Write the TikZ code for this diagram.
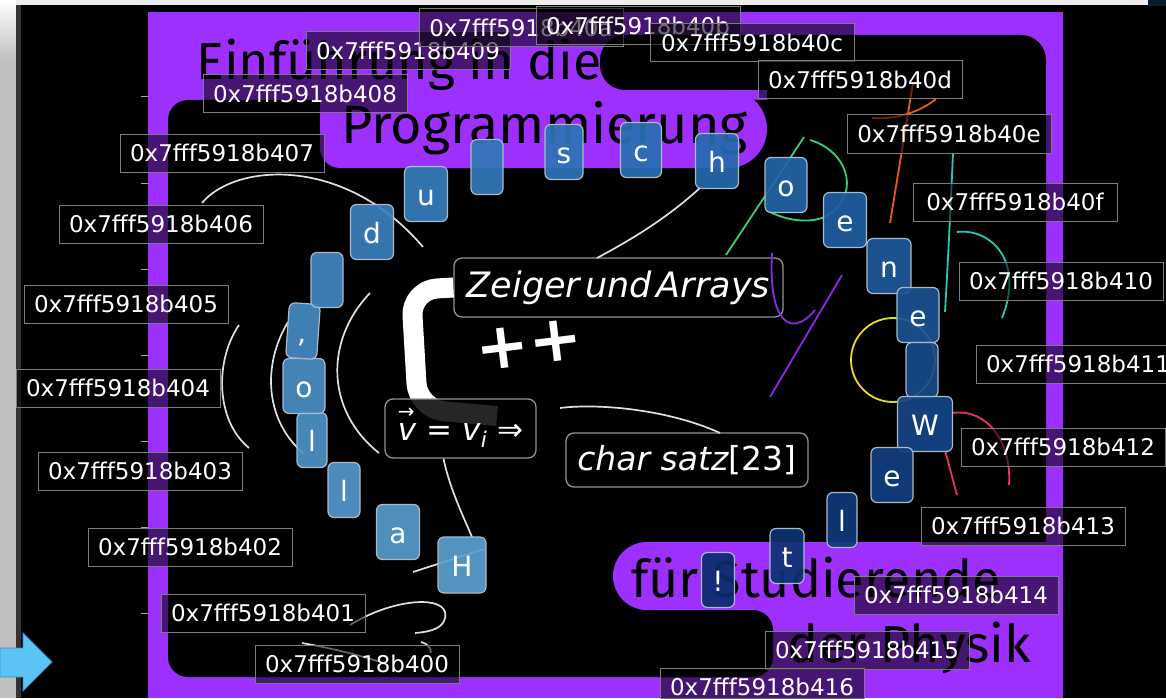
\documentclass[tikz,border=0pt]{standalone}
\usepackage{fontspec}
\setmainfont{DejaVu Sans}
\newfontfamily\titlefont{Fira Sans}
\definecolor{vio}{RGB}{158,48,255}
\definecolor{tlight}{RGB}{92,160,208}
\definecolor{tmid}{RGB}{40,112,180}
\definecolor{tdark}{RGB}{10,45,110}
\definecolor{tileborder}{RGB}{170,186,202}
\definecolor{lblborder}{RGB}{125,125,125}
\definecolor{stripgray}{RGB}{192,192,192}
\definecolor{topnavy}{RGB}{12,28,48}
\definecolor{arrowblue}{RGB}{92,196,245}
\definecolor{arrowedge}{RGB}{60,140,200}
\definecolor{cgreen}{RGB}{50,210,120}
\definecolor{corange}{RGB}{232,92,20}
\definecolor{cteal}{RGB}{40,200,180}
\definecolor{cpurple}{RGB}{140,40,235}
\definecolor{cyellow}{RGB}{232,222,20}
\definecolor{cpink}{RGB}{232,50,110}
\newcommand\vecsym[1]{\leavevmode\rlap{\raisebox{0.7em}{\fontsize{20}{20}\selectfont\upshape →}}#1}
\begin{document}
\begin{tikzpicture}[x=1pt,y=-1pt,
  tile/.style={draw=tileborder, line width=1.2pt, rounded corners=6pt, minimum height=55pt,
    inner sep=0pt, text=white, font=\fontsize{28}{28}\selectfont, text height=28pt, text depth=5pt,
    fill opacity=0.92, text opacity=1},
  addr/.style={draw=lblborder, line width=1pt, fill=black, fill opacity=0.55, text opacity=1,
    text=white, font=\fontsize{23}{23}\selectfont, minimum width=204pt, minimum height=38pt,
    inner sep=0pt, text height=17pt, text depth=0pt},
  codebox/.style={draw=gray!85, line width=1.3pt, rounded corners=8pt, fill=black, fill opacity=0.85,
    text opacity=1, text=white, inner sep=0pt},
  titletext/.style={font=\titlefont\fontsize{52}{52}\selectfont, text=black, inner sep=0pt},
  wcurve/.style={white!88!black, line width=1.7pt},
  ccurve/.style={line width=1.8pt}
]
\clip (0,0) rectangle (1166,698);
% background and window chrome
\fill[black] (0,0) rectangle (1166,698);
\fill[stripgray] (0,0) rectangle (16,698);
\shade[top color=white, bottom color=stripgray] (0,0) rectangle (16,60);
\fill[black!80] (16,5) rectangle (21,698);
\fill[white!93!black] (16,0) rectangle (1148,5);
\fill[topnavy] (1148,0) rectangle (1166,6);
% purple frame and black interior
\fill[vio] (148,12) rectangle (1063,698);
\fill[black, rounded corners=20pt] (168,100) rectangle (1046,677);
\fill[black, rounded corners=25pt] (600,35) rectangle (1046,90);
\fill[black] (767,60) rectangle (1046,120);
% title pill 1
\fill[vio, rounded corners=20pt] (320,90) rectangle (500,168);
\fill[vio, rounded corners=39pt] (400,90) rectangle (767,168);
\fill[vio] (320,90) rectangle (360,120);
% title pill 2
\fill[vio, rounded corners=34pt] (613,542) rectangle (760,610);
\fill[vio] (700,542) rectangle (1050,610);
\fill[vio] (773,600) rectangle (1050,685);
\fill[vio] (740,600) rectangle (773,640);
\fill[vio] (750,655) rectangle (773,685);
\fill[black, rounded corners=20pt] (640,610) rectangle (773,677);
% ticks on the frame edge
\foreach \ty in {97,183,269,355,441,527,613}
  \draw[gray!70, line width=1pt] (141,\ty) -- (148,\ty);
% titles
\node[titletext, anchor=base west] (title1) at (196,80) {Einführung in die};
\node[titletext, anchor=base west, font=\titlefont\fontsize{54}{54}\selectfont] (title2) at (341,143) {Programmierung};
\node[titletext, anchor=base west] (title3) at (631,597) {für Studierende};
\node[titletext, anchor=base east] (title4) at (1031,662) {der Physik};
% arrow at the left
\fill[arrowblue, draw=arrowedge, line width=0.8pt] (0,648) -- (23,648) -- (23,633) -- (52,662) -- (23,691) -- (23,677) -- (0,677) -- cycle;
% code nodes
\node[codebox, minimum width=329pt, minimum height=59pt, text height=26pt, text depth=7pt,
  font=\fontsize{35}{35}\selectfont\itshape] (zeiger) at (618.5,287.5) {Zeiger\hspace{5pt}und\hspace{5pt}Arrays};
% thick connector (behind the v node)
\draw[white, line width=20pt, rounded corners=26pt] (zeiger.west) -- (411,290) -- (418,409) -- (497,416);
\node[codebox, minimum width=151pt, minimum height=59pt, text height=28pt, text depth=5pt,
  font=\fontsize{31}{31}\selectfont] (vnode) at (460.5,428.5) {\vecsym{\textit{v}} = \textit{v}\textsubscript{\textit{i}} ⇒};
\node[codebox, minimum width=242pt, minimum height=54pt, text height=25pt, text depth=5pt,
  font=\fontsize{33}{33}\selectfont] (charsatz) at (687,460) {\textit{char satz}[23]};
\node[text=white, inner sep=0pt, rotate=7, font=\fontsize{64}{64}\selectfont\bfseries] (plusplus) at (529,345) {++};
% white curves
\draw[wcurve] (202,203) .. controls (235,163) and (345,155) .. (423,247);
\draw[wcurve] (239,325) .. controls (215,360) and (215,420) .. (249,448);
\draw[wcurve] (288,322) .. controls (262,365) and (265,420) .. (303,453);
\draw[wcurve] (370,293) .. controls (325,340) and (325,410) .. (379,453);
\draw[wcurve] (700,188) .. controls (670,215) and (640,235) .. (597,258);
\draw[wcurve] (vnode.south) ++(-17,0) .. controls (450,490) and (465,520) .. (472,537);
\draw[wcurve] (413,572) -- (484,549);
\draw[wcurve] (350,625) .. controls (390,600) and (440,595) .. (445,612) .. controls (448,628) and (430,632) .. (415,633);
\draw[wcurve] (421,642) .. controls (428,644) and (431,648) .. (431,653);
\draw[wcurve] (302,643) .. controls (330,648) and (360,655) .. (383,663);
\draw[wcurve] (560,408) .. controls (600,403) and (670,410) .. (720,433);
% coloured curves
\draw[ccurve, cgreen] (726,255) -- (804,137);
\draw[ccurve, cgreen] (810,140) .. controls (845,150) and (862,190) .. (830,214) .. controls (815,224) and (790,222) .. (770,212);
\draw[ccurve, corange] (913,83) -- (890,223);
\draw[ccurve, corange] (872,118) .. controls (895,120) and (920,112) .. (936,99);
\draw[ccurve, cteal] (953,153) .. controls (951,200) and (948,260) .. (945,312);
\draw[ccurve, cteal] (957,232) .. controls (990,228) and (1025,260) .. (1002,318);
\draw[ccurve, cpurple] (842,275) -- (770,397);
\draw[ccurve, cpurple] (772,253) .. controls (768,320) and (790,340) .. (815,310);
\draw[ccurve, cyellow] (893,360) circle (42);
\draw[ccurve, cpink] (953,413) .. controls (985,408) and (1012,440) .. (1009,485);
\draw[ccurve, cpink] (945,450) -- (957,495);
% letter tiles
\node[tile, minimum width=48pt, minimum height=56pt, fill=tmid!0!tlight] (t0) at (462,565) {H};
\node[tile, minimum width=43pt, fill=tmid!9!tlight] (t1) at (398,532) {a};
\node[tile, minimum width=32pt, fill=tmid!18!tlight] (t2) at (344,490) {l};
\node[tile, minimum width=30pt, fill=tmid!27!tlight] (t3) at (312,440) {l};
\node[tile, minimum width=42pt, fill=tmid!36!tlight] (t4) at (304,386) {o};
\node[tile, minimum width=31pt, fill=tmid!45!tlight, rotate=-4] (t5) at (303,331) {,};
\node[tile, minimum width=32pt, fill=tmid!55!tlight] (t6) at (327,280) {};
\node[tile, minimum width=43pt, fill=tmid!64!tlight] (t7) at (372,232) {d};
\node[tile, minimum width=43pt, fill=tmid!73!tlight] (t8) at (426,194) {u};
\node[tile, minimum width=32pt, fill=tmid!82!tlight] (t9) at (487,167) {};
\node[tile, minimum width=38pt, fill=tmid!91!tlight] (t10) at (564,152) {s};
\node[tile, minimum width=41pt, fill=tmid] (t11) at (641,150) {c};
\node[tile, minimum width=43pt, fill=tdark!9!tmid] (t12) at (717,161) {h};
\node[tile, minimum width=42pt, fill=tdark!18!tmid] (t13) at (786,185) {o};
\node[tile, minimum width=43pt, fill=tdark!27!tmid] (t14) at (845,220) {e};
\node[tile, minimum width=44pt, fill=tdark!36!tmid] (t15) at (889,266) {n};
\node[tile, minimum width=42pt, fill=tdark!45!tmid] (t16) at (918,315) {e};
\node[tile, minimum width=32pt, fill=tdark!55!tmid] (t17) at (922,370) {};
\node[tile, minimum width=55pt, fill=tdark!64!tmid] (t18) at (925,424) {W};
\node[tile, minimum width=42pt, fill=tdark!73!tmid] (t19) at (892,475) {e};
\node[tile, minimum width=30pt, fill=tdark!82!tmid] (t20) at (842,520) {l};
\node[tile, minimum width=34pt, fill=tdark!91!tmid] (t21) at (787,556) {t};
\node[tile, minimum width=33pt, fill=tdark] (t22) at (718,580) {!};
% address labels
\foreach \n/\x/\y in {00/357/664, 01/263/613, 02/190/547, 03/140/471, 04/118/388, 05/126/304,
  06/161/224, 07/222/153, 08/305/94, 09/408/51, 0a/521/28, 0b/638/26, 0c/752/43, 0d/860/80,
  0e/949/134, 0f/1015/202, 10/1061/281, 11/1078/364, 12/1063/447, 13/1023/526, 14/956/595,
  15/867/650, 16/762/687}
  \node[addr] (a\n) at (\x,\y) {0x7fff5918b4\n};
\end{tikzpicture}
\end{document}
